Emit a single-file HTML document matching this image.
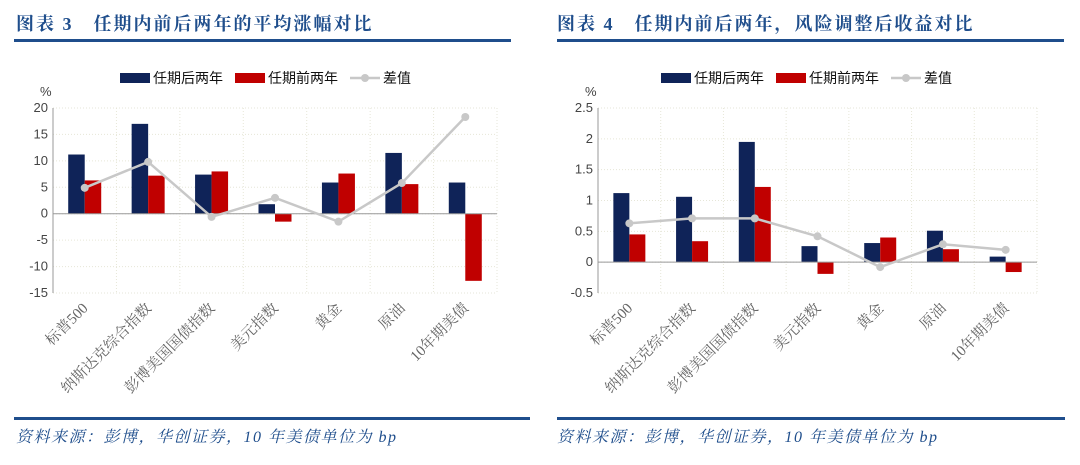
<!DOCTYPE html>
<html><head><meta charset="utf-8">
<style>
body{margin:0;width:1080px;height:465px;background:#fff;overflow:hidden;font-family:"Liberation Sans","Noto Sans CJK SC",sans-serif}
svg{display:block}
.title{font-family:"Liberation Serif","Noto Serif CJK SC",serif;font-weight:bold;font-size:18px;fill:#1f4e8c;letter-spacing:2px}
.foot{font-family:"Liberation Serif","Noto Serif CJK SC",serif;font-style:italic;font-size:16px;fill:#1f4e8c;letter-spacing:1.5px}
.tick{font-size:13px;fill:#444}
.cat{font-family:"Liberation Serif","Noto Serif CJK SC",serif;font-size:15px;fill:#666}
.leg{font-size:14px;fill:#111}
</style></head>
<body>
<svg id="s" width="1080" height="465" xmlns="http://www.w3.org/2000/svg">
<text class="title" x="16" y="30">图表 3　任期内前后两年的平均涨幅对比</text>
<rect x="14" y="39" width="497" height="3" fill="#1f4e8c"/>
<text class="title" x="557" y="30">图表 4　任期内前后两年，风险调整后收益对比</text>
<rect x="557" y="39" width="507" height="3" fill="#1f4e8c"/>
<rect x="14" y="417" width="516" height="3" fill="#1f4e8c"/>
<rect x="557" y="417" width="508" height="3" fill="#1f4e8c"/>
<text class="foot" x="16" y="442">资料来源：彭博，华创证券，10 年美债单位为 bp</text>
<text class="foot" x="557" y="442">资料来源：彭博，华创证券，10 年美债单位为 bp</text>
<g id="c1"></g>
<g id="c2"></g>
</svg>
<script>
const categories=["标普500","纳斯达克综合指数","彭博美国国债指数","美元指数","黄金","原油","10年期美债"];
const after1=[11.2,17,7.4,1.8,5.9,11.5,5.9];
const before1=[6.3,7.2,8.0,-1.5,7.6,5.6,-12.7];
const diff1=[4.9,9.8,-0.6,3.0,-1.5,5.8,18.3];
const ticks1=[20,15,10,5,0,-5,-10,-15];
const after2=[1.12,1.06,1.95,0.26,0.31,0.51,0.09];
const before2=[0.45,0.34,1.22,-0.19,0.40,0.21,-0.16];
const diff2=[0.63,0.71,0.71,0.42,-0.08,0.29,0.20];
const ticks2=[2.5,2,1.5,1,0.5,0,-0.5];
const tickLabels2=["2.5","2","1.5","1","0.5","0","-0.5"];
const NS="http://www.w3.org/2000/svg";
function mk(p,tag,a,txt){const e=document.createElementNS(NS,tag);for(const k in a)e.setAttribute(k,a[k]);if(txt!==undefined)e.textContent=txt;p.appendChild(e);return e;}
function draw(g,o){
  const {x0,x1,y0,y1,ticks,labels,after,before,diff,bw,lx}=o;
  const vmax=ticks[0],vmin=ticks[ticks.length-1];
  const Y=v=>y0+(vmax-v)/(vmax-vmin)*(y1-y0);
  const cw=(x1-x0)/categories.length;
  const X=i=>x0+cw*(i+0.5);
  ticks.forEach((t,i)=>{
    const l=mk(g,'line',{x1:x0,x2:x1,y1:Y(t),y2:Y(t),stroke:'#e6e6d8','stroke-dasharray':'1,2'});
    
    
    const tl=mk(g,'text',{x:x0-5,y:Y(t)+4,'text-anchor':'end',class:'tick'},labels[i]);
    
    
  });
  for(let i=0;i<=categories.length;i++){
    const l=mk(g,'line',{x1:x0+cw*i,x2:x0+cw*i,y1:y0,y2:y1,stroke:'#e6e6d8','stroke-dasharray':'1,2'});
    
    
  }
  const ax=mk(g,'line',{x1:x0,x2:x0,y1:y0,y2:y1,stroke:'#999'});
  
  
  const pc=mk(g,'text',{x:x0-13,y:y0-12,class:'tick','font-size':'14'},'%');
  
  
  categories.forEach((c,i)=>{
    const cx=X(i);
    const a=after[i],b=before[i];
    const r1=mk(g,'rect',{x:cx-bw,y:Math.min(Y(a),Y(0)),width:bw,height:Math.abs(Y(a)-Y(0)),fill:'#0f2358'});
    
    
    const r2=mk(g,'rect',{x:cx,y:Math.min(Y(b),Y(0)),width:bw,height:Math.abs(Y(b)-Y(0)),fill:'#c00000'});
    
    
    const t=mk(g,'text',{x:cx+4,y:y1+16,'text-anchor':'end',class:'cat',transform:`rotate(-45 ${cx+4} ${y1+16})`},c);
    
    
  });
  const zl=mk(g,'line',{x1:x0,x2:x1,y1:Y(0),y2:Y(0),stroke:'#999'});
  
  
  const pl=mk(g,'polyline',{points:diff.map((d,i)=>X(i)+','+Y(d)).join(' '),fill:'none',stroke:'#c8c8c8','stroke-width':2.5});
  
  
  diff.forEach((d,i)=>{
    const p=mk(g,'circle',{cx:X(i),cy:Y(d),r:4,fill:'#c8c8c8'});
    
    
  });
  const ly=78;
  const s1=mk(g,'rect',{x:lx,y:ly-5,width:30,height:10,fill:'#0f2358'});
  
  
  const t1=mk(g,'text',{x:lx+33,y:ly+5,class:'leg'},'任期后两年');
  
  
  const s2=mk(g,'rect',{x:lx+115,y:ly-5,width:30,height:10,fill:'#c00000'});
  
  
  const t2=mk(g,'text',{x:lx+148,y:ly+5,class:'leg'},'任期前两年');
  
  
  const s3=mk(g,'line',{x1:lx+230,x2:lx+260,y1:ly,y2:ly,stroke:'#c8c8c8','stroke-width':2.5});
  
  
  const s3c=mk(g,'circle',{cx:lx+245,cy:ly,r:4,fill:'#c8c8c8'});
  
  
  const t3=mk(g,'text',{x:lx+263,y:ly+5,class:'leg'},'差值');
  
  
}
draw(document.getElementById('c1'),{x0:53,x1:497,y0:108,y1:293,ticks:ticks1,labels:ticks1.map(String),after:after1,before:before1,diff:diff1,bw:16.5,lx:120});
draw(document.getElementById('c2'),{x0:598,x1:1037,y0:108,y1:293,ticks:ticks2,labels:tickLabels2,after:after2,before:before2,diff:diff2,bw:16,lx:661});
</script>
</body></html>
